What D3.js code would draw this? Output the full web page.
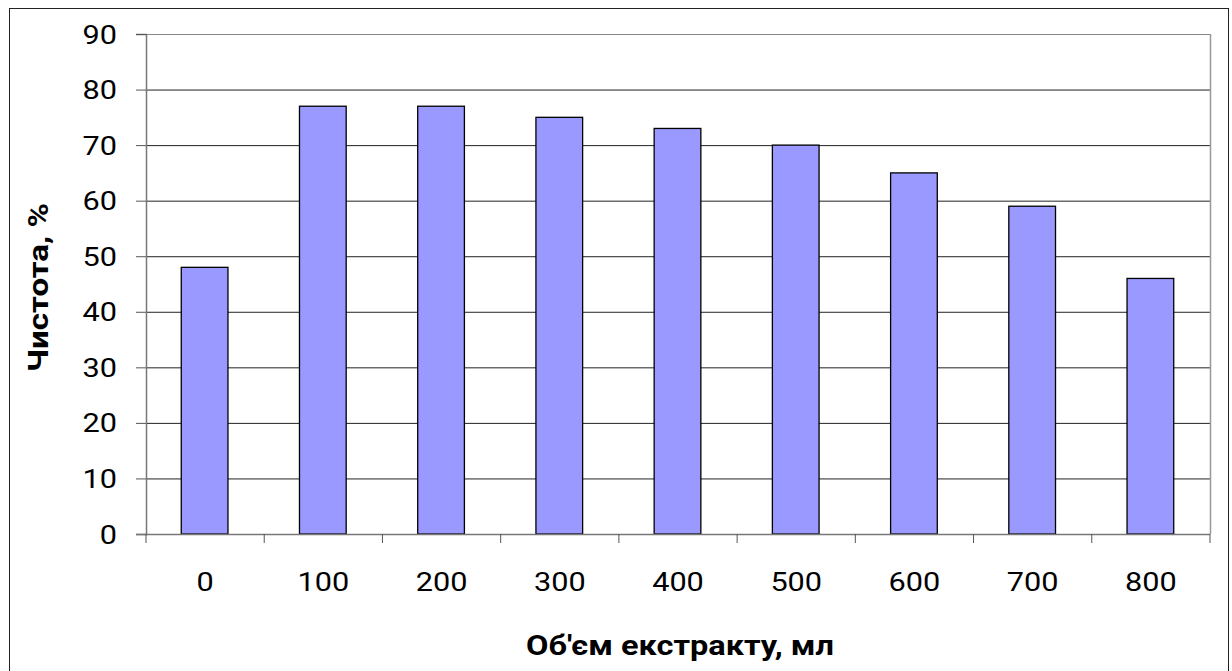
<!DOCTYPE html>
<html><head><meta charset="utf-8">
<script src="https://cdn.jsdelivr.net/npm/d3@7"></script>
<style>body{margin:0;background:#fff;}svg{display:block;}</style>
</head><body>
<script>
const categories = ["0","100","200","300","400","500","600","700","800"];
const values = [48, 77, 77, 75, 73, 70, 65, 59, 46];
const yTicks = [0,10,20,30,40,50,60,70,80,90];
const xTitle = "Об'єм екстракту, мл";
const yTitle = "Чистота, %";

const W = 1232, H = 671;
const svg = d3.select("body").append("svg").attr("width", W).attr("height", H);
svg.append("rect").attr("x", 9.5).attr("y", 8.5).attr("width", 1219).attr("height", 680)
  .attr("fill", "#fff").attr("stroke", "#222").attr("stroke-width", 1);

const L = 146, R = 1210, T = 34, B = 534;
const xb = d3.scaleBand().domain(categories).range([L, R]);
const barW = xb.bandwidth() * 0.395;
const y = d3.scaleLinear().domain([0, 90]).range([B, T]);
const font = "Roboto, 'Liberation Sans', Arial, sans-serif";
const SX = 1.18;

// gridlines
svg.append("g").selectAll("line").data(yTicks.filter(d => d > 0)).join("line")
  .attr("x1", L).attr("x2", R).attr("y1", d => y(d) + 0.5).attr("y2", d => y(d) + 0.5)
  .attr("stroke", d => d === 90 ? "#888" : "#222").attr("stroke-width", 1);
// right frame
svg.append("line").attr("x1", R + 0.5).attr("x2", R + 0.5).attr("y1", T).attr("y2", B)
  .attr("stroke", "#999").attr("stroke-width", 1.5);

// bars
svg.append("g").selectAll("rect").data(values).join("rect")
  .attr("x", (d, i) => xb(categories[i]) + xb.bandwidth() / 2 - barW / 2 - 0.5)
  .attr("width", barW)
  .attr("y", d => y(d))
  .attr("height", d => B - y(d))
  .attr("fill", "#9999ff").attr("stroke", "#000").attr("stroke-width", 1.3);

// y axis
const ya = svg.append("g").attr("transform", `translate(${L},0)`)
  .call(d3.axisLeft(y).tickValues(yTicks).tickSize(10).tickFormat(""));
ya.select(".domain").attr("stroke", "#777").attr("stroke-width", 1.5);
ya.selectAll(".tick line").attr("stroke", "#555");
svg.append("g").selectAll("text").data(yTicks).join("text")
  .attr("transform", d => `translate(117,${y(d) + 9.5}) scale(${SX},1)`)
  .attr("text-anchor", "end").attr("font-family", font).attr("font-size", 26)
  .attr("fill", "#000").text(d => d);

// x axis
const xa = svg.append("g").attr("transform", `translate(0,${B})`);
xa.append("line").attr("x1", L - 10).attr("x2", R).attr("y1", 0.5).attr("y2", 0.5)
  .attr("stroke", "#777").attr("stroke-width", 1.5);
const bounds = categories.map(c => xb(c)).concat([R]);
xa.selectAll(".xt").data(bounds).join("line").attr("class", "xt")
  .attr("x1", d => d).attr("x2", d => d).attr("y1", 0).attr("y2", 9)
  .attr("stroke", "#555");
xa.selectAll("text").data(categories).join("text")
  .attr("transform", d => `translate(${xb(d) + xb.bandwidth() / 2},57) scale(${SX},1)`)
  .attr("text-anchor", "middle").attr("font-family", font).attr("font-size", 26)
  .text(d => d);

// titles
svg.append("text").attr("x", 526).attr("y", 655)
  .attr("textLength", 308).attr("lengthAdjust", "spacingAndGlyphs")
  .attr("font-family", font).attr("font-weight", "bold").attr("font-size", 28).text(xTitle);
svg.append("text").attr("transform", "translate(48,372) rotate(-90)")
  .attr("textLength", 169).attr("lengthAdjust", "spacingAndGlyphs")
  .attr("font-family", font).attr("font-weight", "bold").attr("font-size", 28).text(yTitle);
</script>
</body></html>
